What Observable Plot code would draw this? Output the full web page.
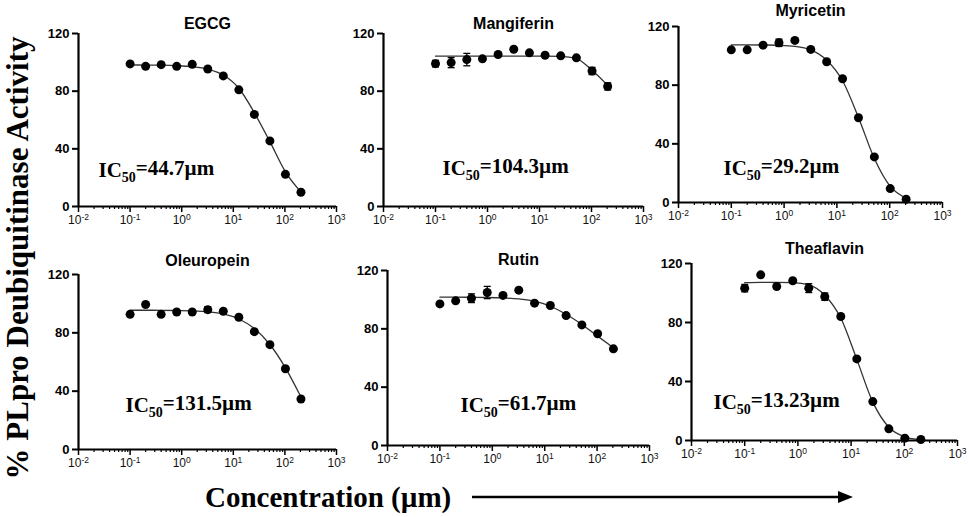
<!DOCTYPE html>
<html><head><meta charset="utf-8">
<script src="https://cdn.jsdelivr.net/npm/d3@7"></script>
<script src="https://cdn.jsdelivr.net/npm/@observablehq/plot@0.6"></script>
<style>
body{margin:0;background:#fff;}
#fig{position:relative;width:969px;height:517px;overflow:hidden;background:#fff;}
.panel{position:absolute;width:360px;}
.panel svg{max-width:none !important;}
#ylab{position:absolute;left:0;top:0;}
#xlab{position:absolute;left:205px;top:497px;transform:translateY(-50%);font:bold 29px "Liberation Serif","Times New Roman",serif;white-space:nowrap;color:#000;}
#arrow{position:absolute;left:472px;top:487px;}
</style></head>
<body>
<div id="fig">
  <svg id="ylab" width="40" height="517"><text transform="translate(17,258) rotate(-90)" text-anchor="middle" dominant-baseline="central" font-family="Liberation Serif, Times New Roman, serif" font-weight="bold" font-size="31" fill="#000">% PLpro Deubiquitinase Activity</text></svg>
  <div id="xlab">Concentration (µm)</div>
  <svg id="arrow" width="384" height="20"><line x1="0" y1="10" x2="368" y2="10" stroke="#000" stroke-width="2.6"/><polygon points="366,4 381,10 366,16" fill="#000"/></svg>
</div>
<script>
// ---- data ----
const compounds = ["EGCG","Mangiferin","Myricetin","Oleuropein","Rutin","Theaflavin"];
const ic50Values = ["44.7","104.3","29.2","131.5","61.7","13.23"];
const doses = [0.1,0.2,0.4,0.8,1.6,3.2,6.4,12.8,25.6,51.2,102.4,204.8];

const egcgMean = [98.9,97.2,98.4,97.2,98.6,95.4,90.6,80.9,63.9,45.5,22.3,9.9];
const egcgErr  = [0,0,0,0,0,0,0,0,0,0,0,0];
const egcgFit  = [98.2,98.1,98.0,97.7,97.0,95.3,91.2,82,65,45,24,10];

const mangMean = [99.1,99.8,101.9,102.4,105.4,109.1,106.6,104.9,104.5,103.1,94.0,83.3];
const mangErr  = [2.3,3.5,4.3,1,0,0,0,0,0,0.8,2.5,2.5];
const mangFit  = [104.3,104.3,104.3,104.3,104.3,104.3,104.3,104.3,104.1,102.6,94.5,84];

const myriMean = [104.1,104.1,107.3,108.9,110.5,104.4,96.0,84.4,57.8,31.1,9.5,2.3];
const myriErr  = [0,0,0,2.5,0,0,0,0,0,0,0,0];
const myriFit  = [107.5,107.5,107.4,107.2,106.5,104,97,83,58,30,11,3];

const oleuMean = [92.7,99.4,92.7,94.3,94.3,95.9,94.8,90.7,80.8,71.9,55.4,34.6];
const oleuErr  = [0,0,0,0,0,2,0,0,0,0,0,0];
const oleuFit  = [95.5,95.5,95.4,95.3,95.1,94.5,93,89.5,83,72,56,36];

const rutiMean = [97.1,99.2,101.0,104.9,102.9,106.5,97.6,96.0,89.1,82.7,76.6,66.3];
const rutiErr  = [0,0,3,4.2,0,0,0,0,0,0,0,0];
const rutiFit  = [101.7,101.7,101.6,101.5,101.2,100.5,99,95.5,90,83,75,67];

const theaMean = [103.3,112.3,104.4,108.3,103.3,97.5,84.1,55.3,26.4,7.9,1.6,0.7];
const theaErr  = [2.5,0,0,0,3,2.5,0,0,0,0,0,0];
const theaFit  = [107,107.2,107.2,107,105.5,98.5,83,55,26,9,2.5,0.5];

const means = [egcgMean, mangMean, myriMean, oleuMean, rutiMean, theaMean];
const errs  = [egcgErr, mangErr, myriErr, oleuErr, rutiErr, theaErr];
const fits  = [egcgFit, mangFit, myriFit, oleuFit, rutiFit, theaFit];

const yTicks = [0,40,80,120];
const yTickLabels = ["0","40","80","120"];
const xMajorTicks = [0.01,0.1,1,10,100,1000];
const xMajorExponents = ["-2","-1","0","1","2","3"];
const xMinorTicks = [-2,-1,0,1,2].flatMap(e => [2,3,4,5,6,7,8,9].map(k => k * Math.pow(10, e)));

// ---- layout (pixels) ----
const layout = [
  {x0:78,  x1:336, top:33,  bottom:206, titleDy:10, labDx:20, labDy:137},
  {x0:383, x1:643, top:33,  bottom:206, titleDy:10, labDx:59, labDy:135},
  {x0:678, x1:942, top:26,  bottom:202, titleDy:16, labDx:45, labDy:142},
  {x0:78,  x1:336, top:274, bottom:449, titleDy:14, labDx:47, labDy:131},
  {x0:387, x1:649, top:270, bottom:445, titleDy:11, labDx:73, labDy:135},
  {x0:691, x1:957, top:263, bottom:440, titleDy:15, labDx:22, labDy:139}
];
const mL = 45, mR = 20, mT = 30, mB = 28;
const serif = "Liberation Serif, Times New Roman, serif";
const sans = "Liberation Sans, Arial, Helvetica, sans-serif";

const capSymbol = {draw(ctx, size){ const r = Math.sqrt(size/Math.PI); ctx.moveTo(-r,0); ctx.lineTo(r,0); }};

const fig = document.getElementById("fig");

compounds.forEach((name, i) => {
  const L = layout[i];
  const pts = doses.map((d, j) => ({dose: d, mean: means[i][j], err: errs[i][j], fit: fits[i][j]}));
  const errPts = pts.filter(p => p.err > 0);
  const xLab = xMajorTicks.map((t, k) => ({t, s: "10^" + xMajorExponents[k]}));
  const yLab = yTicks.map((t, k) => ({t, s: yTickLabels[k]}));
  const plot = Plot.plot({
    width: mL + (L.x1 - L.x0) + mR,
    height: mT + (L.bottom - L.top) + mB,
    marginLeft: mL, marginRight: mR, marginTop: mT, marginBottom: mB,
    style: {fontFamily: sans, background: "transparent", overflow: "visible", color: "#000"},
    x: {type: "log", domain: [0.01, 1000]},
    y: {domain: [0, 120]},
    marks: [
      Plot.axisX({ticks: xMinorTicks, tickSize: 3, tickFormat: () => "", strokeWidth: 1.2, label: null}),
      Plot.axisX({ticks: xMajorTicks, tickSize: 6, tickFormat: () => "", strokeWidth: 1.5, label: null}),
      Plot.axisY({ticks: yTicks, tickSize: 6, tickFormat: () => "", strokeWidth: 2, label: null}),
      Plot.text(xLab, {x: "t", text: "s", frameAnchor: "bottom", lineAnchor: "top", dy: 9,
        fontSize: 12, fill: "#111", fontFamily: sans}),
      Plot.text(yLab, {y: "t", text: "s", frameAnchor: "left", textAnchor: "end", dx: -9,
        fontSize: 13, fontWeight: "bold", fill: "#000", fontFamily: sans}),
      Plot.ruleY([0], {strokeWidth: 2.2}),
      Plot.ruleX([0.01], {strokeWidth: 2.2}),
      Plot.line(pts, {x: "dose", y: "fit", curve: "monotone-x", stroke: "#333", strokeWidth: 1.3}),
      Plot.ruleX(errPts, {x: "dose", y1: d => d.mean - d.err, y2: d => d.mean + d.err, stroke: "#000", strokeWidth: 1.3}),
      Plot.dot(errPts, {x: "dose", y: d => d.mean + d.err, symbol: capSymbol, r: 3.5, stroke: "#000", strokeWidth: 1.3}),
      Plot.dot(errPts, {x: "dose", y: d => d.mean - d.err, symbol: capSymbol, r: 3.5, stroke: "#000", strokeWidth: 1.3}),
      Plot.dot(pts, {x: "dose", y: "mean", r: 4.5, fill: "#000", stroke: null}),
      Plot.text([name], {frameAnchor: "top", dy: -L.titleDy, lineAnchor: "middle", text: d => d,
        fontSize: 16, fontWeight: "bold", fontFamily: sans, fill: "#000"}),
      Plot.text(["IC50=" + ic50Values[i] + "µm"], {frameAnchor: "top-left", dx: L.labDx, dy: L.labDy,
        textAnchor: "start", lineAnchor: "middle", text: d => d,
        fontSize: 21, fontWeight: "bold", fontFamily: serif, fill: "#000"})
    ]
  });
  d3.select(plot).selectAll("text").each(function(){
    const t = d3.select(this);
    const s = t.text();
    if (s.startsWith("IC50=")) {
      t.text(null);
      t.append("tspan").text("IC");
      t.append("tspan").style("font-size", "14px").attr("dy", "0.32em").text("50");
      t.append("tspan").attr("dy", "-0.32em").text(s.slice(4));
    } else if (s.startsWith("10^")) {
      t.text(null);
      t.append("tspan").text("10");
      t.append("tspan").style("font-size", "8.5px").attr("dy", "-0.45em").text(s.slice(3));
    }
  });
  const div = document.createElement("div");
  div.className = "panel";
  div.style.left = (L.x0 - mL) + "px";
  div.style.top = (L.top - mT) + "px";
  div.appendChild(plot);
  fig.appendChild(div);
});
</script>
</body></html>
